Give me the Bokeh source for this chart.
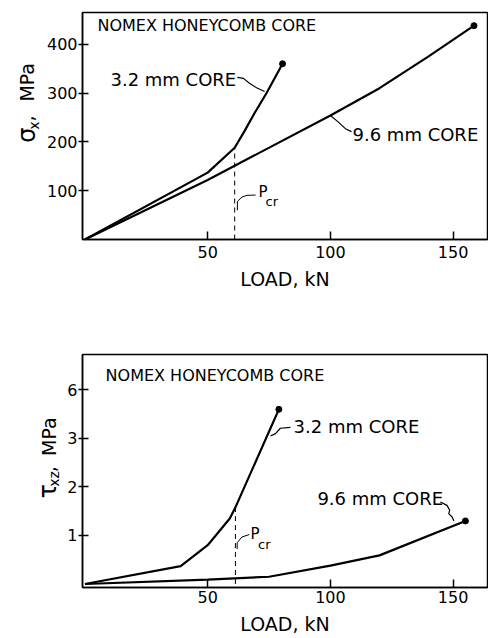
import math
from bokeh.plotting import figure
from bokeh.models import Label, Range1d, FixedTicker
from bokeh.layouts import column, row
from bokeh.core.properties import value
from bokeh.embed import file_html
from bokeh.resources import INLINE

FONT = "DejaVu Sans"

# ---- data: top panel (sigma_x vs load) ----
load_32_top = [0, 50, 61, 65, 69, 74, 80.5]
sigma_32 = [0, 137, 188, 222, 258, 300, 360]
load_96_top = [0, 50, 100, 120, 140, 158.5]
sigma_96 = [0, 122, 254, 310, 375, 438]
pcr_top = [61, 188]

# ---- data: bottom panel (tau_xz vs load) ----
load_32_bot = [0, 39, 50, 59, 61.3, 79]
tau_32 = [0, 0.37, 0.8, 1.35, 1.58, 3.6]
load_96_bot = [0, 50, 75, 100, 120, 155]
tau_96 = [0, 0.09, 0.15, 0.38, 0.59, 1.3]
pcr_bot = [61.3, 1.58]

x_ticks = [50, 100, 150]
top_y_ticks = [100, 200, 300, 400]
bot_y_ticks = [1, 2, 3, 4]
bot_y_labels = ["1", "2", "3", "6"]


def style(p, tick_standoff, label_standoff):
    p.background_fill_color = "white"
    p.border_fill_color = "white"
    p.outline_line_color = "black"
    p.outline_line_width = 1.5
    p.xgrid.visible = False
    p.ygrid.visible = False
    for ax in (p.xaxis[0], p.yaxis[0]):
        ax.axis_line_color = "black"
        ax.axis_line_width = 1.5
        ax.major_tick_line_color = "black"
        ax.major_tick_line_width = 1.5
        ax.minor_tick_line_color = None
        ax.major_label_text_font = FONT
        ax.major_label_text_font_size = "16px"
        ax.major_label_text_color = "black"
        ax.axis_label_text_font = FONT
        ax.axis_label_text_font_style = "normal"
        ax.axis_label_text_color = "black"
    p.xaxis[0].major_tick_in = 8
    p.xaxis[0].major_tick_out = 0
    p.xaxis[0].major_label_standoff = tick_standoff
    p.xaxis[0].ticker = FixedTicker(ticks=x_ticks)
    p.xaxis[0].axis_label = "LOAD, kN"
    p.xaxis[0].axis_label_text_font_size = "19px"
    p.xaxis[0].axis_label_standoff = label_standoff
    p.yaxis[0].major_tick_in = 6
    p.yaxis[0].major_tick_out = 4
    p.yaxis[0].major_label_standoff = 1


def txt(p, x, y, s, size):
    p.add_layout(Label(x=x, y=y, text=s, text_font=FONT, text_font_size=size,
                       text_color="black", text_align="left", text_baseline="middle"))


def side_figure(w, h):
    f = figure(width=w, height=h, x_range=Range1d(0, w), y_range=Range1d(0, h),
               output_backend="svg", toolbar_location=None,
               x_axis_location=None, y_axis_location=None, min_border=0)
    f.outline_line_color = None
    f.xgrid.visible = False
    f.ygrid.visible = False
    f.background_fill_color = "white"
    f.border_fill_color = "white"
    return f


def vtext(f, x, y, s, size):
    f.text(x=[x], y=[y], text=[s], angle=math.pi / 2, text_font=value(FONT),
           text_font_size=value(size), text_align="left", text_baseline="middle",
           text_color="black")


# ================= TOP =================
p1 = figure(width=448, height=298, x_range=Range1d(-1, 164), y_range=Range1d(0, 465),
            output_backend="svg", toolbar_location=None,
            min_border_left=42, min_border_right=1, min_border_top=12, min_border_bottom=59)
style(p1, 6, 7)
p1.yaxis[0].ticker = FixedTicker(ticks=top_y_ticks)

p1.line(load_32_top, sigma_32, line_color="black", line_width=2.2)
p1.line(load_96_top, sigma_96, line_color="black", line_width=2.2)
p1.scatter([load_32_top[-1], load_96_top[-1]], [sigma_32[-1], sigma_96[-1]],
           size=6, color="black")
p1.line([pcr_top[0], pcr_top[0]], [0, pcr_top[1]], line_color="black",
        line_width=1, line_dash="5 4")

txt(p1, 5.1, 438, "NOMEX HONEYCOMB CORE", "16px")
txt(p1, 10.4, 328, "3.2 mm CORE", "18px")
p1.line([62.1, 64.6, 67.0, 69.9, 73.2], [332, 330, 320, 311, 303], line_color="black", line_width=1.2)
txt(p1, 109, 215, "9.6 mm CORE", "18px")
p1.line([100, 102.9, 106.1, 108.6], [254, 242, 227, 221], line_color="black", line_width=1.2)
txt(p1, 70.7, 98, "P", "15px")
txt(p1, 73.6, 78, "cr", "13px")
p1.line([62.1, 62.1, 64, 66, 69.5], [60, 78, 87, 90.5, 91], line_color="black", line_width=1)

s1 = side_figure(40, 298)
vtext(s1, 26, 127, "σ", "24px")
vtext(s1, 33, 144, "x", "14px")
vtext(s1, 26, 155, ",", "19px")
vtext(s1, 26, 181, "MPa", "19px")

# ================= BOTTOM =================
p2 = figure(width=426, height=340, x_range=Range1d(-1, 164), y_range=Range1d(-0.072, 4.73),
            output_backend="svg", toolbar_location=None,
            min_border_left=20, min_border_right=1, min_border_top=56, min_border_bottom=51)
style(p2, 3, 7)
p2.yaxis[0].ticker = FixedTicker(ticks=bot_y_ticks)
p2.yaxis[0].major_label_overrides = {t: l for t, l in zip(bot_y_ticks, bot_y_labels)}

p2.line(load_32_bot, tau_32, line_color="black", line_width=2.2)
p2.line(load_96_bot, tau_96, line_color="black", line_width=2.2)
p2.scatter([load_32_bot[-1], load_96_bot[-1]], [tau_32[-1], tau_96[-1]],
           size=6, color="black")
p2.line([pcr_bot[0], pcr_bot[0]], [0, pcr_bot[1]], line_color="black",
        line_width=1, line_dash="5 4")

txt(p2, 8.4, 4.30, "NOMEX HONEYCOMB CORE", "16px")
txt(p2, 85.0, 3.25, "3.2 mm CORE", "18px")
p2.line([83.7, 79.6, 77.6, 75.6], [3.23, 3.21, 3.10, 3.05], line_color="black", line_width=1.2)
txt(p2, 94.7, 1.76, "9.6 mm CORE", "18px")
p2.line([144.8, 147.5, 148.6, 148.2, 149.6, 150.3], [1.69, 1.62, 1.52, 1.45, 1.38, 1.30],
        line_color="black", line_width=1.2)
txt(p2, 67.4, 1.04, "P", "15px")
txt(p2, 70.5, 0.82, "cr", "13px")
p2.line([62, 62, 64, 67], [0.72, 0.85, 0.97, 1.02], line_color="black", line_width=1)

s2 = side_figure(62, 340)
vtext(s2, 47.6, 130, "τ", "24px")
vtext(s2, 53, 147, "xz", "14px")
vtext(s2, 48, 168, ",", "19px")
vtext(s2, 48, 192, "MPa", "19px")

layout = column(row(s1, p1, spacing=0), row(s2, p2, spacing=0), spacing=0)
open("out.html", "w").write(file_html(layout, INLINE))
